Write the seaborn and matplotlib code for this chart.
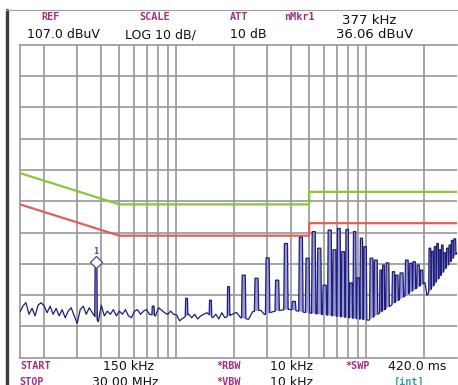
import numpy as np
import pandas as pd
import matplotlib
matplotlib.use("Agg")
import matplotlib.pyplot as plt
from matplotlib.lines import Line2D
import seaborn as sns

# ---------------- instrument texts ----------------
ref_text = "107.0 dBuV"
scale_text = "LOG 10 dB/"
att_text = "10 dB"
mkr_freq_text = "377 kHz"
mkr_level_text = "36.06 dBuV"
start_text = "150 kHz"
stop_text = "30.00 MHz"
rbw_text = "10 kHz"
vbw_text = "10 kHz"
swp_text = "420.0 ms"
swp_mode_text = "[int]"

ref_level = 107.0
db_per_div = 10.0
n_div = 10
f_start = 0.15   # MHz
f_stop = 30.0    # MHz

grid_freqs = [0.2, 0.3, 0.4, 0.5, 0.6, 0.7, 0.8, 0.9, 1, 2, 3, 4, 5, 6, 7, 8, 9, 10, 20]

# ---------------- limit lines ----------------
qp_freq = [0.15, 0.5, 5.0, 5.0, 30.0]
qp_level = [66, 56, 56, 60, 60]
av_freq = [0.15, 0.5, 5.0, 5.0, 30.0]
av_level = [56, 46, 46, 50, 50]

# ---------------- marker ----------------
mkr_freq = 0.377
mkr_level = 36.06

# ---------------- measured trace: noise floor (MHz, dBuV) ----------------
floor_freq = [
    0.150, 0.1556, 0.1613, 0.1673, 0.1736, 0.1800, 0.1867, 0.1937, 0.2009, 0.2083,
    0.2161, 0.2241, 0.2325, 0.2411, 0.2501, 0.2594, 0.2690, 0.2790, 0.2894, 0.3002,
    0.3113, 0.3229, 0.3349, 0.3474, 0.3603, 0.3876, 0.4020, 0.4170, 0.4325, 0.4486,
    0.4653, 0.4826, 0.5005, 0.5192, 0.5385, 0.5585, 0.5793, 0.6009, 0.6232, 0.6464,
    0.6705, 0.6954, 0.7213, 0.7759, 0.8048, 0.8347, 0.8658, 0.8980, 0.9314, 0.9661,
    1.002, 1.039, 1.078, 1.160, 1.203, 1.248, 1.294, 1.342, 1.392, 1.444,
    1.553, 1.611, 1.671, 1.733, 1.798, 1.934,
    2.072, 2.175, 2.283, 2.397, 2.516, 2.642, 2.773, 2.911, 3.056, 3.208,
    3.368, 3.536, 3.712, 3.897, 4.091, 4.295, 4.509, 4.733, 4.969, 5.216,
    5.476, 5.749, 6.035, 6.336, 6.651, 6.982, 7.330, 7.695, 8.078, 8.480,
    8.903, 9.346, 9.811, 10.30, 10.81, 11.35, 11.92, 12.51, 13.13, 13.79,
    14.47, 15.19, 15.95, 16.75, 17.58, 18.45, 19.37, 20.34,
    20.84, 21.35, 21.88, 22.41, 22.97, 23.53, 24.11, 24.70, 25.31, 25.93,
    26.57, 27.22, 27.89, 28.58, 29.28, 30.00,
]
floor_db = [
    21.7, 23.6, 24.6, 20.9, 22.8, 20.4, 23.8, 24.6, 23.6, 21.4,
    23.5, 20.9, 22.8, 20.4, 22.4, 19.8, 21.9, 23.0, 20.4, 18.0,
    22.4, 23.5, 20.9, 23.0, 21.4, 18.5, 23.8, 20.4, 21.9, 20.9,
    22.4, 20.4, 21.9, 20.9, 22.4, 20.4, 19.8, 21.9, 22.4, 20.9,
    21.9, 22.4, 20.9, 20.4, 23.0, 22.2, 21.4, 20.9, 21.9, 20.9,
    20.7, 18.8, 19.6, 20.9, 19.8, 20.9, 19.4, 20.4, 20.9, 21.4,
    19.8, 20.9, 19.4, 21.4, 19.8, 20.7,
    21.5, 19.8, 21.2, 19.3, 21.7, 20.3, 22.2, 20.8, 19.8, 21.7,
    20.3, 22.2, 20.8, 22.5, 20.8, 22.0, 20.5, 21.5, 22.0, 21.0,
    22.5, 21.5, 20.5, 21.5, 20.5, 21.0, 21.5, 20.5, 21.0, 20.0,
    20.5, 19.5, 20.0, 19.0, 19.5, 18.5, 19.0, 18.5, 19.0, 19.5,
    20.5, 22.0, 23.0, 24.5, 25.5, 27.5, 29.5, 31.0,
    27.0, 38.0, 36.5, 37.5, 36.0, 37.0, 35.5, 35.0, 36.5, 35.5,
    37.5, 38.0, 37.5, 39.5, 40.0, 40.5,
]

# ---------------- measured spikes (MHz, dBuV) ----------------
spike_freq = [
    0.377, 0.754, 1.13, 1.51, 1.88, 2.26, 2.64, 3.02, 3.39, 3.77,
    4.15, 4.52, 4.90, 5.28, 5.65, 6.03, 6.41, 6.79, 7.16, 7.54,
    7.92, 8.29, 8.67, 9.05, 9.42, 9.85, 10.64, 11.21, 11.91, 12.30,
    12.92, 13.89, 14.47, 15.31, 16.33, 17.15, 17.85, 18.74, 19.53,
    21.6, 22.3, 23.0, 23.7, 24.4, 25.1, 25.9, 26.7, 27.5, 28.3, 29.2,
]
spike_db = [
    36.06, 23.5, 26.0, 25.4, 29.7, 33.4, 32.4, 38.9, 31.8, 43.5,
    25.0, 45.5, 38.8, 47.3, 42.0, 30.2, 47.8, 41.5, 48.3, 40.9,
    48.0, 30.9, 47.3, 32.5, 45.2, 42.5, 38.8, 38.2, 35.0, 36.6,
    37.3, 34.5, 33.4, 34.1, 38.2, 37.2, 37.7, 36.6, 35.0,
    42.0, 41.0, 42.5, 43.5, 41.5, 43.0, 40.5, 42.0, 43.0, 44.5, 45.0,
]

# ---------------- colours ----------------
trace_color = "#1e1e78"
fill_color = "#9898d4"
qp_color = "#8cc43c"
av_color = "#e0605c"
grid_color = "#979797"
label_color = "#a3307f"

# ---------------- build trace geometry ----------------
W, H = 458, 385
plot_w_px = 436.0
dec_per_px = np.log10(f_stop / f_start) / plot_w_px

lf = np.log10(np.array(floor_freq))
fd = np.array(floor_db, dtype=float)
ls = np.log10(np.array(spike_freq))
sd = np.array(spike_db, dtype=float)

gaps = np.diff(ls)
nb = np.minimum(np.r_[np.inf, gaps], np.r_[gaps, np.inf])
hb = np.minimum(2.2 * dec_per_px, 0.46 * nb)
# the isolated low-frequency spikes are drawn narrower
hb = np.where(10 ** ls < 2.0, np.minimum(hb, 1.3 * dec_per_px), hb)
ht = 0.7 * hb

keep = np.ones(len(lf), bool)
for s, h in zip(ls, hb):
    keep &= np.abs(lf - s) > h * 1.2
lfk, fdk = lf[keep], fd[keep]

pts = list(zip(lfk, fdk))
for s, p, h, t in zip(ls, sd, hb, ht):
    pts += [(s - h, np.interp(s - h, lfk, fdk)), (s - t, p),
            (s + t, p), (s + h, np.interp(s + h, lfk, fdk))]
pts.sort(key=lambda q: q[0])
tr_lf = np.array([q[0] for q in pts])
tr_db = np.array([q[1] for q in pts])
tr_f = 10 ** tr_lf
base_db = np.interp(tr_lf, lfk, fdk)

trace_df = pd.DataFrame({"freq": tr_f, "level": tr_db})
qp_df = pd.DataFrame({"freq": qp_freq, "level": qp_level})
av_df = pd.DataFrame({"freq": av_freq, "level": av_level})

# ---------------- figure ----------------
sns.set_style("white")
plt.rcParams["font.family"] = ["DejaVu Sans"]
fig = plt.figure(figsize=(W / 100, H / 100), dpi=100)
fig.patch.set_facecolor("white")
ax = fig.add_axes([20 / W, 1 - 357.8 / H, 437 / W, 313.1 / H])
ax.set_xscale("log")
ax.set_xlim(f_start, f_stop)
ax.set_ylim(ref_level - n_div * db_per_div, ref_level)
ax.set_xticks(grid_freqs)
ax.set_xticks([], minor=True)
ax.set_yticks(np.arange(ref_level - (n_div - 1) * db_per_div, ref_level, db_per_div))
ax.tick_params(which="both", length=0, labelbottom=False, labelleft=False)
ax.grid(True, color=grid_color, lw=1.2)
for sp in ax.spines.values():
    sp.set_color(grid_color)
    sp.set_linewidth(1.2)
ax.spines["right"].set_visible(False)

ax.fill_between(tr_f, tr_db, base_db, where=tr_db > base_db, color=fill_color,
                lw=0, interpolate=True, zorder=2)
sns.lineplot(data=qp_df, x="freq", y="level", ax=ax, color=qp_color, lw=1.6,
             sort=False, estimator=None, zorder=3)
sns.lineplot(data=av_df, x="freq", y="level", ax=ax, color=av_color, lw=1.6,
             sort=False, estimator=None, zorder=3)
sns.lineplot(data=trace_df, x="freq", y="level", ax=ax, color=trace_color, lw=0.9,
             sort=False, estimator=None, zorder=4)
sns.scatterplot(x=[mkr_freq], y=[mkr_level + 1.5], ax=ax, marker="D", s=38,
                facecolor="white", edgecolor="#6a4c9c", linewidth=1.0, zorder=5)
ax.text(mkr_freq, mkr_level + 5.0, "1", color="#6a4c9c", fontsize=5.5,
        fontweight="bold", ha="center", va="center", zorder=5)
ax.set_xlabel("")
ax.set_ylabel("")

# ---------------- frame decorations ----------------
fig.add_artist(Line2D([6.5 / W, 6.5 / W], [0, 1 - 10 / H], color="#3c3c3c", lw=2.4))
fig.add_artist(Line2D([6 / W, 1], [1 - 10 / H, 1 - 10 / H], color="#a0a0a0", lw=0.8))


def ftxt(x, y, s, **kw):
    fig.text(x / W, 1 - y / H, s, **kw)


lab_kw = dict(color=label_color, fontsize=7.3, fontweight="bold",
              family="DejaVu Sans Mono", ha="center", va="center")
val_kw = dict(color="#111111", fontsize=9, ha="left", va="center")

ftxt(51, 17, "REF", **lab_kw)
ftxt(155, 17, "SCALE", **lab_kw)
ftxt(239, 17, "ATT", **lab_kw)
ftxt(299, 17, "nMkr1", **lab_kw)
ftxt(369, 20, mkr_freq_text, color="#111111", fontsize=9.5, ha="center", va="center")
ftxt(27, 34.5, ref_text, **val_kw)
ftxt(125, 34.5, scale_text, **val_kw)
ftxt(230, 34.5, att_text, **val_kw)
ftxt(374.5, 34.5, mkr_level_text, color="#111111", fontsize=9.5, ha="center", va="center")

ftxt(36, 366, "START", **lab_kw)
ftxt(103, 366, start_text, **val_kw)
ftxt(229, 366, "*RBW", **lab_kw)
ftxt(270, 366, rbw_text, **val_kw)
ftxt(358, 366, "*SWP", **lab_kw)
ftxt(388, 366, swp_text, **val_kw)

ftxt(32, 382, "STOP", **lab_kw)
ftxt(92, 382, stop_text, **val_kw)
ftxt(229, 382, "*VBW", **lab_kw)
ftxt(270, 382, vbw_text, **val_kw)
ftxt(409, 382, swp_mode_text, **dict(lab_kw, color="#3a9aa8"))

fig.savefig("out.png", dpi=100)
